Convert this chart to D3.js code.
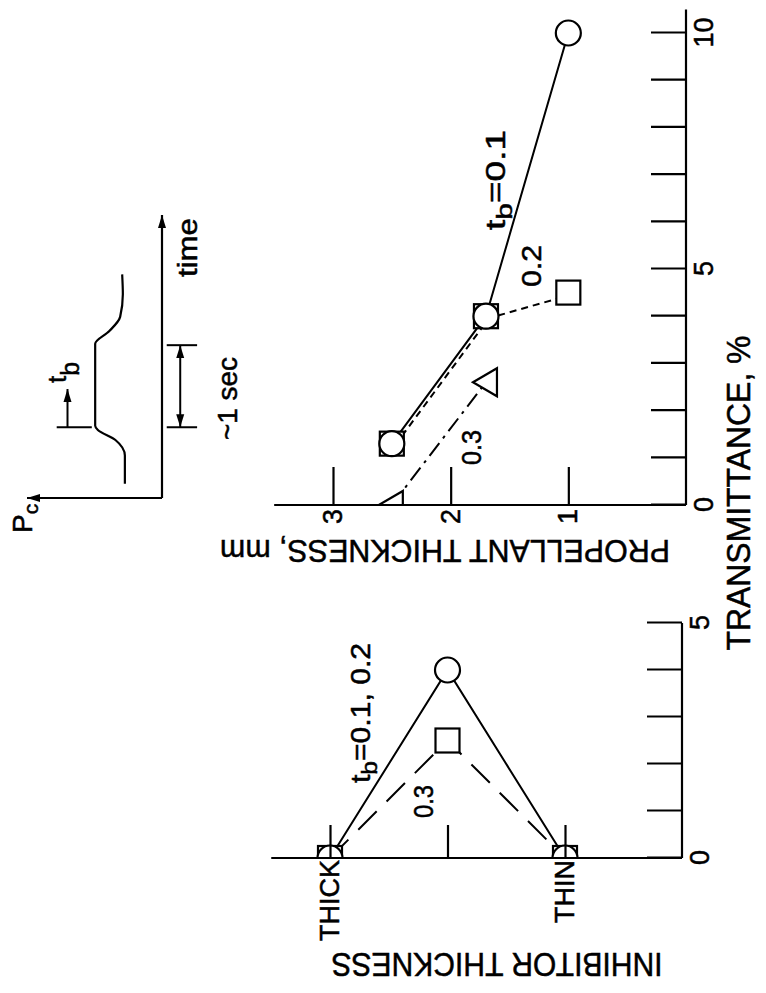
<!DOCTYPE html>
<html><head><meta charset="utf-8">
<script src="https://cdn.jsdelivr.net/npm/d3@7"></script>
<style>
body{margin:0;background:#fff}
svg{display:block}
text{font-family:"Liberation Sans",Arial,Helvetica,sans-serif;fill:#000;stroke:#000;stroke-width:0.5px}
</style>
</head><body>
<svg id="c" width="766" height="993"></svg>
<script>
// ---------------- data ----------------
const transTickVals = [0,1,2,3,4,5,6,7,8,9,10];
const transLabelVals = [0,5,10];
const inhibTransTickVals = [0,1,2,3,4,5];
const inhibTransLabelVals = [0,5];
const propThickTickVals = [1,2,3];
const inhibCats = ["THICK","MID","THIN"];
const inhibCatLabels = ["THICK","","THIN"];

// propellant thickness (mm) vs transmittance (%)
const propTb01Trans = [10.0, 4.0, 1.3];
const propTb01Thick = [1.0, 1.7, 2.5];
const propTb02Trans = [1.3, 4.0, 4.5];
const propTb02Thick = [2.5, 1.7, 1.0];
const propTb03Trans = [0.0, 2.6];
const propTb03Thick = [2.5, 1.7];

// inhibitor thickness vs transmittance (%)
const inhibTb0102Trans = [0.0, 4.0, 0.0];
const inhibTb03Trans   = [0.0, 2.5, 0.0];

// inset schematic Pc(time)
const insetTime = [0.5, 1.5, 2.05, 2.4, 2.55, 5.45, 5.9, 6.4, 7.2, 7.9];
const insetPc   = [2.75, 2.75, 3.45, 4.75, 4.95, 4.95, 3.9, 3.1, 2.9, 2.95];

// ---------------- setup ----------------
const W = 766, H = 993;
const svg = d3.select("#c");
const defs = svg.append("defs");
defs.append("marker").attr("id","arr")
  .attr("viewBox","0 -5 13 10").attr("refX",13).attr("refY",0)
  .attr("markerWidth",13).attr("markerHeight",10)
  .attr("markerUnits","userSpaceOnUse").attr("orient","auto-start-reverse")
  .append("path").attr("d","M0,-4L13,0L0,4Z").attr("fill","#000");

// whole figure drawn in an unrotated frame (993 x 766), then turned -90deg
const root = svg.append("g").attr("transform",`translate(0,${H}) rotate(-90)`);

// scales
const propT  = d3.scaleLinear([0,10],[488,960]);
const propTh = d3.scaleLinear([0,3],[686,333]);
const inhT   = d3.scaleLinear([0,5],[135,370]);
const inhCat = d3.scalePoint(inhibCats,[330,565]);
const inT    = d3.scaleLinear([0,10],[495,778]);
const inP    = d3.scaleLinear([0,10],[162,27]);

defs.append("clipPath").attr("id","propClip").append("rect")
  .attr("x",propT(0)).attr("y",0).attr("width",600).attr("height",800);
defs.append("clipPath").attr("id","inhClip").append("rect")
  .attr("x",inhT(0)).attr("y",0).attr("width",300).attr("height",800);

function txt(x, y, parts, size, len, opts={}) {
  const t = root.append("text").attr("x",x).attr("y",y).attr("font-size",size);
  if (opts.anchor) t.attr("text-anchor",opts.anchor);
  if (opts.rot) t.attr("transform",`rotate(${opts.rot},${x},${y})`);
  parts.forEach(p => {
    const s = t.append("tspan").text(p.t);
    if (p.dy) s.attr("dy",p.dy);
    if (p.size) s.attr("font-size",p.size);
  });
  if (len) t.attr("textLength",len).attr("lengthAdjust","spacingAndGlyphs");
  return t;
}

function marker(g, type, x, y) {
  if (type === "circle") {
    g.append("circle").attr("cx",x).attr("cy",y).attr("r",12.5)
      .attr("fill","#fff").attr("stroke","#000").attr("stroke-width",2.2);
  } else if (type === "square") {
    g.append("rect").attr("x",x-12).attr("y",y-12).attr("width",24).attr("height",24)
      .attr("fill","#fff").attr("stroke","#000").attr("stroke-width",2.2);
  } else {
    g.append("path").attr("d",`M${x},${y-13}L${x+14},${y+11}L${x-14},${y+11}Z`)
      .attr("fill","#fff").attr("stroke","#000").attr("stroke-width",2.2);
  }
}

// ---------------- propellant panel ----------------
const pg = root.append("g").attr("clip-path","url(#propClip)");
const pline = d3.line().x(d=>propT(d[0])).y(d=>propTh(d[1]));
const s01 = propTb01Trans.map((v,i)=>[v,propTb01Thick[i]]);
const s02 = propTb02Trans.map((v,i)=>[v,propTb02Thick[i]]);
const s03 = propTb03Trans.map((v,i)=>[v,propTb03Thick[i]]);
pg.append("path").attr("d",pline(s02)).attr("fill","none").attr("stroke","#000")
  .attr("stroke-width",2).attr("stroke-dasharray","7,5").attr("transform","translate(-2,3)");
pg.append("path").attr("d",pline(s01)).attr("fill","none").attr("stroke","#000").attr("stroke-width",2);
pg.append("path").attr("d",pline(s03)).attr("fill","none").attr("stroke","#000")
  .attr("stroke-width",2).attr("stroke-dasharray","16,6,3,6");
s02.forEach(d=>marker(pg,"square",propT(d[0]),propTh(d[1])));
s01.forEach(d=>marker(pg,"circle",propT(d[0]),propTh(d[1])));
s03.forEach(d=>marker(pg,"tri",propT(d[0]),propTh(d[1])));

// axes
const axT = d3.axisBottom(propT).tickValues(transTickVals).tickSize(-35).tickPadding(8)
  .tickFormat(d => transLabelVals.includes(d) ? d : "");
root.append("g").attr("transform",`translate(0,${propTh(0)})`).call(axT)
  .call(g=>g.select(".domain").remove())
  .call(g=>g.selectAll("line").attr("stroke-width",2.2))
  .call(g=>g.selectAll("text").attr("font-size",27).attr("font-family",null));
root.append("line").attr("x1",propT(0)).attr("x2",propT(10.5))
  .attr("y1",propTh(0)).attr("y2",propTh(0)).attr("stroke","#000").attr("stroke-width",2.2);

const axTh = d3.axisLeft(propTh).tickValues(propThickTickVals).tickSize(-38).tickPadding(4)
  .tickFormat(d3.format("d"));
root.append("g").attr("transform",`translate(${propT(0)},0)`).call(axTh)
  .call(g=>g.select(".domain").remove())
  .call(g=>g.selectAll("line").attr("stroke-width",2.2))
  .call(g=>g.selectAll("text").attr("font-size",27).attr("font-family",null));
root.append("line").attr("x1",propT(0)).attr("x2",propT(0))
  .attr("y1",propTh(0)).attr("y2",propTh(3.5)).attr("stroke","#000").attr("stroke-width",2.2);

// ---------------- inhibitor panel ----------------
const ig = root.append("g").attr("clip-path","url(#inhClip)");
const iline = d3.line().x(d=>inhT(d[1])).y(d=>inhCat(d[0]));
const i12 = inhibCats.map((c,i)=>[c,inhibTb0102Trans[i]]);
const i3  = inhibCats.map((c,i)=>[c,inhibTb03Trans[i]]);
ig.append("path").attr("d",iline(i3)).attr("fill","none").attr("stroke","#000")
  .attr("stroke-width",2).attr("stroke-dasharray","26,14");
ig.append("path").attr("d",iline(i12)).attr("fill","none").attr("stroke","#000").attr("stroke-width",2);
i3.forEach(d=>marker(ig,"square",inhT(d[1]),inhCat(d[0])));
i12.forEach(d=>marker(ig,"circle",inhT(d[1]),inhCat(d[0])));

const axIT = d3.axisBottom(inhT).tickValues(inhibTransTickVals).tickSize(-35).tickPadding(8)
  .tickFormat(d => inhibTransLabelVals.includes(d) ? d : "");
root.append("g").attr("transform",`translate(0,682)`).call(axIT)
  .call(g=>g.select(".domain").remove())
  .call(g=>g.selectAll("line").attr("stroke-width",2.2))
  .call(g=>g.selectAll("text").attr("font-size",27).attr("font-family",null));
root.append("line").attr("x1",inhT(0)).attr("x2",inhT(5))
  .attr("y1",682).attr("y2",682).attr("stroke","#000").attr("stroke-width",2.2);

const axC = d3.axisLeft(inhCat).tickSize(-33).tickPadding(2)
  .tickFormat(d => inhibCatLabels[inhibCats.indexOf(d)]);
root.append("g").attr("transform",`translate(${inhT(0)},0)`).call(axC)
  .call(g=>g.select(".domain").remove())
  .call(g=>g.selectAll("line").attr("stroke-width",2.2))
  .call(g=>g.selectAll("text").attr("font-size",27).attr("font-family",null));
root.append("line").attr("x1",inhT(0)).attr("x2",inhT(0))
  .attr("y1",inhCat("THICK")-inhCat.step()/2).attr("y2",682)
  .attr("stroke","#000").attr("stroke-width",2.2);

// ---------------- inset ----------------
const inLine = d3.line().x((d,i)=>inT(insetTime[i])).y((d,i)=>inP(insetPc[i])).curve(d3.curveMonotoneX);
root.append("path").attr("d",inLine(insetTime)).attr("fill","none").attr("stroke","#000").attr("stroke-width",2.2);
root.append("line").attr("x1",inT(0)).attr("x2",inT(10)).attr("y1",inP(0)).attr("y2",inP(0))
  .attr("stroke","#000").attr("stroke-width",2.2).attr("marker-end","url(#arr)");
root.append("line").attr("x1",inT(0)).attr("x2",inT(0)).attr("y1",inP(0)).attr("y2",inP(10))
  .attr("stroke","#000").attr("stroke-width",2.2).attr("marker-end","url(#arr)");
// t_b marker
root.append("line").attr("x1",inT(2.5)).attr("x2",inT(2.5)).attr("y1",inP(7.8)).attr("y2",inP(5.2))
  .attr("stroke","#000").attr("stroke-width",2);
root.append("line").attr("x1",inT(2.5)).attr("x2",inT(3.85)).attr("y1",inP(7.0)).attr("y2",inP(7.0))
  .attr("stroke","#000").attr("stroke-width",2).attr("marker-end","url(#arr)");
// ~1 sec marker
[2.5,5.4].forEach(t=>root.append("line").attr("x1",inT(t)).attr("x2",inT(t))
  .attr("y1",inP(-0.35)).attr("y2",inP(-2.6)).attr("stroke","#000").attr("stroke-width",2));
root.append("line").attr("x1",inT(2.5)).attr("x2",inT(5.4)).attr("y1",inP(-1.35)).attr("y2",inP(-1.35))
  .attr("stroke","#000").attr("stroke-width",2)
  .attr("marker-start","url(#arr)").attr("marker-end","url(#arr)");

// ---------------- texts ----------------
txt(500, 750, [{t:"TRANSMITTANCE, %"}], 33, 315, {anchor:"middle"});
txt(453, 445, [{t:"PROPELLANT  THICKNESS, mm"}], 32, 450, {anchor:"middle", rot:-90});
txt(40, 497, [{t:"INHIBITOR  THICKNESS"}], 34, 331, {anchor:"middle", rot:-90});

txt(210, 370, [{t:"t"},{t:"b",dy:7,size:22},{t:"=0.1, 0.2",dy:-7}], 27, 140);
txt(175, 433, [{t:"0.3"}], 27, 33);
txt(763, 505, [{t:"t"},{t:"b",dy:7,size:22},{t:"=0.1",dy:-7}], 27, 100);
txt(706, 541, [{t:"0.2"}], 27, 42);
txt(528, 481, [{t:"0.3"}], 27, 35);

txt(716, 197, [{t:"time"}], 27, 59);
txt(553, 237, [{t:"~1 sec"}], 27, 83);
txt(460, 32, [{t:"P"},{t:"c",dy:6,size:21}], 28);
txt(610, 66, [{t:"t"},{t:"b",dy:13,size:25}], 26);
</script>
</body></html>
